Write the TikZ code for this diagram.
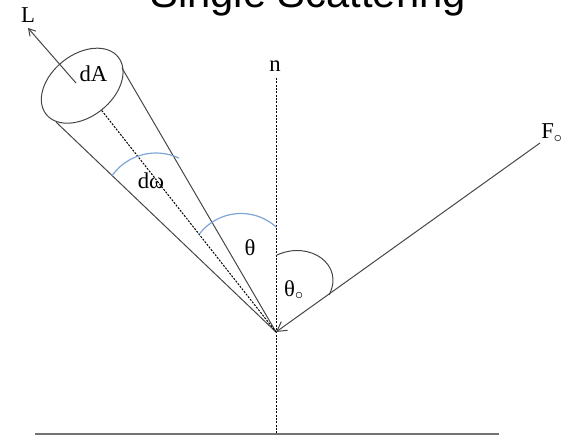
\documentclass[tikz,border=0pt]{standalone}
\usepackage{fontspec}
\setmainfont{Liberation Serif}
\newfontfamily\titlefont{Liberation Sans}
\usepackage{tikz}
\usetikzlibrary{arrows.meta,positioning,shapes.geometric}
\definecolor{arcblue}{RGB}{125,165,215}
\definecolor{raygray}{RGB}{70,70,70}

\begin{document}
\begin{tikzpicture}[
  x=0.75pt, y=-0.75pt,
  lbl/.style={inner sep=0pt, font=\fontsize{17}{19}\selectfont},
  ray/.style={raygray, line width=0.75pt},
  angarc/.style={arcblue, line width=0.9pt},
  fine dash/.style={dash pattern=on 1.5pt off 1pt},
  >=Stealth]
  \useasboundingbox (0,0) rectangle (568,435);
  \clip (0,0) rectangle (568,435);
  \node[anchor=base west, inner sep=0pt, font=\titlefont\fontsize{31.3}{36}\selectfont]
      (title) at (150,7.5) {Single Scattering};
  % points
  \coordinate (O) at (276,332);
  \coordinate (ntop) at (276,78);
  \coordinate (nbot) at (276,434);
  \coordinate (gl) at (35,434);
  \coordinate (gr) at (499,434);
  \coordinate (Fend) at (540,143);
  \coordinate (rimL) at (56,122);
  \coordinate (rimR) at (122,68);
  \coordinate (Ltail) at (76,83);
  \coordinate (Ltip) at (28,28);
  % cone cap
  \node[draw, ray, ellipse, rotate=38.4, minimum width=69pt, minimum height=46.5pt,
        inner sep=0pt] (cap) at (82.2,85.7) {};
  % labels
  \node[lbl] (n) at (275,66) {n};
  \node[lbl] (L) at (28,15) {L};
  \node[lbl] (F) at (552,133) {F$_\circ$};
  \node[lbl] (dA) at (93.5,73.5) {dA};
  \node[lbl] (dw) at (151,181) {dω};
  \node[lbl] (th) at (250,248) {θ};
  \node[lbl] (th0) at (294,290) {θ$_\circ$};
  % normal and ground
  \draw[black, line width=0.7pt, fine dash] (ntop) -- (nbot);
  \draw[black!55, line width=1.2pt] (gl) -- (gr);
  % rays
  \draw[ray] (rimL) -- (O);
  \draw[ray] (rimR) -- (O);
  \draw[ray, black, fine dash] (cap) -- (O);
  \draw[ray, -{Straight Barb[length=5pt, width=6pt]}] (Ltail) -- (Ltip);
  \draw[ray, -{Straight Barb[length=7pt, width=8pt]}] (Fend) -- (O);
  % angles
  \draw[angarc] ([shift={(-144.6:54)}]156,207) arc[start angle=-144.6, end angle=-64.9, radius=54];
  \draw[angarc] ([shift={(-142:52.5)}]241,266) arc[start angle=-142, end angle=-48, radius=52.5];
  \draw[ray] (277,255) .. controls (310,240) and (345,265) .. (329,295);
\end{tikzpicture}
\end{document}
